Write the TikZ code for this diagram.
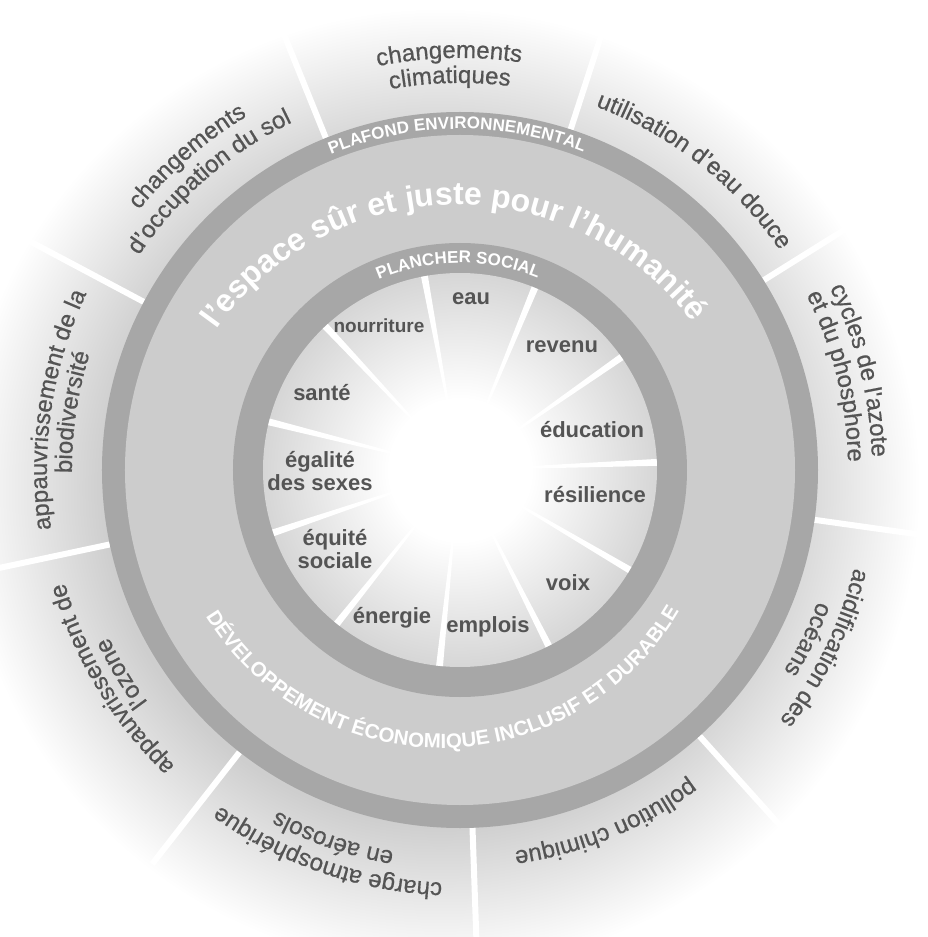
\documentclass[tikz,border=0pt]{standalone}
\usepackage{fontspec}
\setmainfont{Liberation Sans}
\newfontfamily\boundfont{Liberation Sans}[FakeBold=0.6]
\usetikzlibrary{decorations.text}

\definecolor{ringgray}{RGB}{167,167,167}
\definecolor{bandgray}{RGB}{204,204,204}
\definecolor{glowgray}{RGB}{206,206,206}
\definecolor{coregray}{RGB}{214,214,214}
\definecolor{labelgray}{RGB}{84,84,84}

\pgfdeclareradialshading{glow}{\pgfpoint{0bp}{0bp}}{color(0bp)=(glowgray); color(17.5bp)=(glowgray); color(25bp)=(white); color(50bp)=(white)}
\pgfdeclareradialshading{core}{\pgfpoint{0bp}{0bp}}{color(0bp)=(white); color(9bp)=(white); color(25bp)=(coregray); color(50bp)=(coregray)}

\newcommand{\outerfont}{\boundfont\fontsize{24}{24}\selectfont}

\begin{document}
\begin{tikzpicture}[x=1pt, y=1pt,
  ring/.style={fill=ringgray},
  spoke/.style={white, line width=6pt},
  social/.style={text=labelgray, align=center, font=\bfseries\fontsize{22}{23}\selectfont},
  bound/.style={decorate, decoration={text along path, text align=center,
      text color=labelgray, text={|\outerfont|#1}}},
  ringtext/.style={decorate, decoration={text along path, text align=center,
      text color=white, text={|\bfseries\fontsize{17}{17}\selectfont|#1}}},
  bandtext/.style 2 args={decorate, decoration={text along path, text align=center,
      text color=white, text={|\bfseries\fontsize{#1}{#1}\selectfont|#2}}}]
 \useasboundingbox (-460,-467) rectangle (468,470);
 \fill[white] (-460,-467) rectangle (468,470);

 % planetary boundaries
 \shade[shading=glow] (-20,-18) circle (480);
 \foreach \a in {72,112,...,392}
   \draw[spoke] (\a:358) -- (\a:500);

 \fill[ring] (0,0) circle (358);
 \fill[bandgray] (0,0) circle (335);
 \fill[ring] (0,0) circle (227);
 \shade[shading=core] (0,0) circle (197);

 % social foundation
 \foreach \k [evaluate=\k as \b using 100.4-32.727*\k] in {0,...,10}
   \fill[white] (0,0) -- (\b-1:197) -- (\b+1:197) -- cycle;

 \path[bound=changements] (161.5:412) arc[start angle=161.5, end angle=21.5, radius=412];
 \path[bound=climatiques] (161.5:387) arc[start angle=161.5, end angle=21.5, radius=387];
 \path[bound=utilisation d’eau douce] (122:388) arc[start angle=122, end angle=-18, radius=388];
 \path[bound=cycles de l'azote] (84:412) arc[start angle=84, end angle=-56, radius=412];
 \path[bound=et du phosphore] (84:388) arc[start angle=84, end angle=-56, radius=388];
 \path[bound=acidification des] (44:406) arc[start angle=44, end angle=-96, radius=406];
 \path[bound=océans] (44:381) arc[start angle=44, end angle=-96, radius=381];
 \path[bound=pollution chimique] (2.4:385) arc[start angle=2.4, end angle=-137.6, radius=385];
 \path[bound=charge atmosphérique] (321:413) arc[start angle=321, end angle=181, radius=413];
 \path[bound=en aérosols] (321:387) arc[start angle=321, end angle=181, radius=387];
 \path[bound=appauvrissement de] (281:411) arc[start angle=281, end angle=141, radius=411];
 \path[bound=l’ozone] (281:389) arc[start angle=281, end angle=141, radius=389];
 \path[bound=appauvrissement de la] (241.5:413) arc[start angle=241.5, end angle=101.5, radius=413];
 \path[bound=biodiversité] (241.5:388) arc[start angle=241.5, end angle=101.5, radius=388];
 \path[bound=changements] (201:413) arc[start angle=201, end angle=61, radius=413];
 \path[bound=d’occupation du sol] (201:386) arc[start angle=201, end angle=61, radius=386];

 \path[ringtext=PLAFOND ENVIRONNEMENTAL] (160.5:341) arc[start angle=160.5, end angle=20.5, radius=341];
 \path[ringtext=PLANCHER SOCIAL] (160.5:207) arc[start angle=160.5, end angle=20.5, radius=207];
 \path[bandtext={32}{l’espace sûr et juste pour l’humanité}] ([shift={(-3,-30)}]160.8:295) arc[start angle=160.8, end angle=20.8, radius=295];
 \path[bandtext={20.5}{DÉVELOPPEMENT ÉCONOMIQUE INCLUSIF ET DURABLE}] ([shift={(-19,-2)}]200.6:276) arc[start angle=200.6, end angle=340.6, radius=276];

 \node[social] (eau) at (11,171) {eau};
 \node[social, font=\bfseries\fontsize{19}{21}\selectfont] (nourriture) at (-81,144) {nourriture};
 \node[social] (revenu) at (102,123) {revenu};
 \node[social] (sante) at (-138,77) {santé};
 \node[social] (education) at (132,40) {éducation};
 \node[social] (egalite) at (-140,-1) {égalité\\des sexes};
 \node[social] (resilience) at (135,-25) {résilience};
 \node[social] (equite) at (-125,-79) {équité\\sociale};
 \node[social] (voix) at (108,-113) {voix};
 \node[social] (energie) at (-68,-148) {énergie};
 \node[social] (emplois) at (28,-157) {emplois};
\end{tikzpicture}
\end{document}
